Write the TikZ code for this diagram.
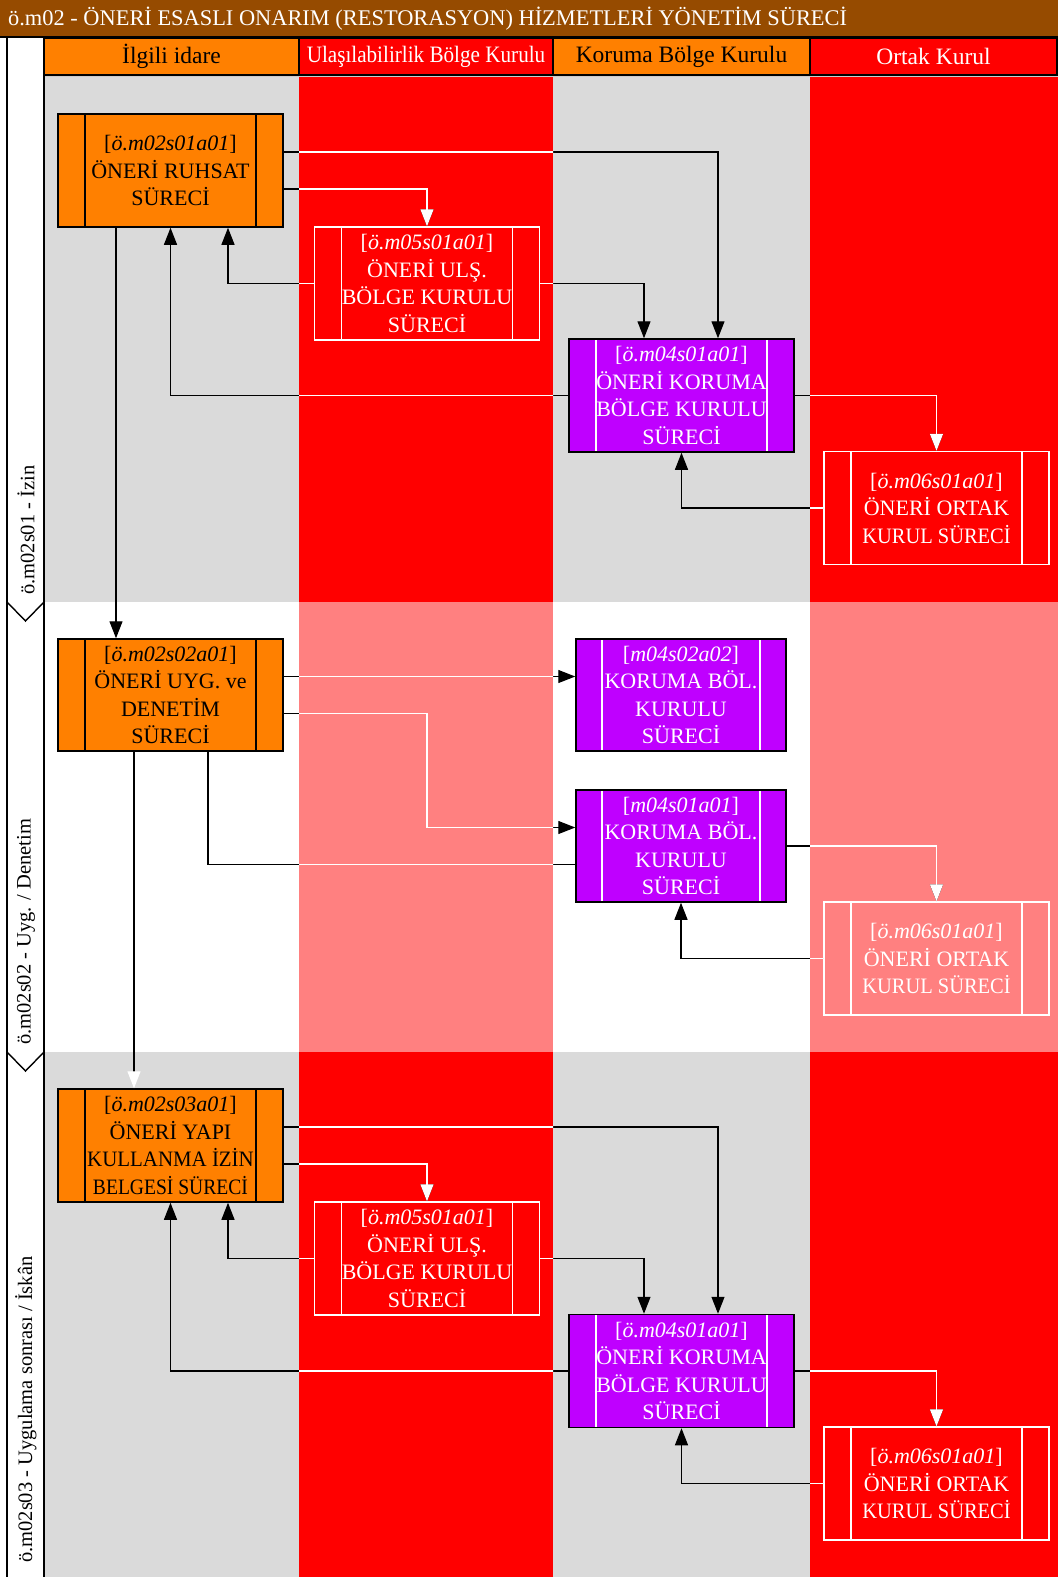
\documentclass[tikz,border=0pt]{standalone}
\usepackage{fontspec}
\setmainfont{Liberation Serif}
\usepackage{graphicx}
\usetikzlibrary{arrows.meta,calc}
\definecolor{gr}{RGB}{218,218,218}
\definecolor{rd}{RGB}{255,0,0}
\definecolor{pk}{RGB}{255,128,128}
\definecolor{og}{RGB}{255,128,0}
\definecolor{pu}{RGB}{191,0,255}
\definecolor{br}{RGB}{150,75,0}
\newcommand\bxfont{\fontsize{22}{27.5}\selectfont}
\newcommand\hdfont{\fontsize{23.5}{27}\selectfont}
\newcommand\phfont{\fontsize{20.5}{24}\selectfont}
\newcommand\sqz[2]{\scalebox{#1}[1]{#2}}
\newcommand\conns[1]{%
\begin{scope}[cn/.style={draw=#1,line width=1.2pt,-{Triangle[length=17pt,width=13pt,color=#1]}},cl/.style={draw=#1,line width=1.2pt}]
% phase 1
\draw[cn] ([yshift=18.5pt]A.east) -| ([xshift=36.5pt]C.north);
\draw[cn] ([yshift=-18.5pt]A.east) -| (B.north);
\draw[cn] (B.west) -| ([xshift=57.5pt]A.south);
\draw[cn] (B.east) -| ([xshift=-37.5pt]C.north);
\draw[cn] (C.west) -| (A.south);
\draw[cn] (C.east) -| (D.north);
\draw[cn] (D.west) -| (C.south);
\draw[cn] ([xshift=-54.5pt]A.south) -- ([xshift=-54.5pt]E.north);
% phase 2
\draw[cn] ([yshift=18.5pt]E.east) -- ([yshift=18.5pt]F.west);
\draw[cn] ([yshift=-18.5pt]E.east) -| (B.north |- E.south) |- ([yshift=18.5pt]G.west);
\draw[cl] ([xshift=37.5pt]E.south) |- ([yshift=-18.5pt]G.west);
\draw[cn] (G.east) -| (H.north);
\draw[cn] (H.west) -| (G.south);
\draw[cl,-{Triangle[length=17pt,width=13pt,color=white]}] ([xshift=-36.5pt]E.south) -- ([xshift=-36.5pt]I.north);
% phase 3
\draw[cn] ([yshift=18.5pt]I.east) -| ([xshift=36.5pt]K.north);
\draw[cn] ([yshift=-18.5pt]I.east) -| (J.north);
\draw[cn] (J.west) -| ([xshift=57.5pt]I.south);
\draw[cn] (J.east) -| ([xshift=-37.5pt]K.north);
\draw[cn] (K.west) -| (I.south);
\draw[cn] (K.east) -| (L.north);
\draw[cn] (L.west) -| (K.south);
\end{scope}}
\begin{document}
\begin{tikzpicture}[x=1pt,y=-1pt,
  proc/.style={rectangle, minimum width=225pt, minimum height=113pt, inner sep=0pt, line width=1.5pt, align=center, font=\bxfont,
    path picture={\draw[line width=1.5pt,#1] ([xshift=27pt]path picture bounding box.north west) -- ([xshift=27pt]path picture bounding box.south west) ([xshift=-27pt]path picture bounding box.north east) -- ([xshift=-27pt]path picture bounding box.south east);}},
  procn/.style={rectangle, minimum width=210pt, minimum height=112pt, inner sep=0pt, line width=1.5pt, align=center, font=\bxfont,
    path picture={\draw[line width=1.5pt,#1] ([xshift=26pt]path picture bounding box.north west) -- ([xshift=26pt]path picture bounding box.south west) ([xshift=-26pt]path picture bounding box.north east) -- ([xshift=-26pt]path picture bounding box.south east);}},
  obox/.style={proc=black, fill=og, draw=black, text=black},
  pbox/.style={proc=white, fill=pu, draw=black, text=white},
  pnbox/.style={procn=white, fill=pu, draw=black, text=white},
  rbox/.style={proc=white, draw=white, text=white},
  hdr/.style={rectangle, draw=black, line width=1.5pt, minimum height=37pt, inner sep=0pt, font=\hdfont},
  phase/.style={rotate=90, anchor=west, inner sep=0pt, font=\phfont}
]
\useasboundingbox (0,0) rectangle (1058,1577);
% title
\fill[br] (0,0) rectangle (1058,37);
\draw[black,line width=1.5pt] (0,37) -- (1058,37);
\node[anchor=west, inner sep=0pt, text=white, font=\fontsize{22.4}{26}\selectfont] (title) at (8,19) {ö.m02 - ÖNERİ ESASLI ONARIM (RESTORASYON) HİZMETLERİ YÖNETİM SÜRECİ};
% lane backgrounds
\fill[gr] (44,75) rectangle (299,602);
\fill[rd] (299,75) rectangle (553,602);
\fill[gr] (553,75) rectangle (810,602);
\fill[rd] (810,75) rectangle (1058,602);
\fill[white] (44,602) rectangle (299,1052);
\fill[pk] (299,602) rectangle (553,1052);
\fill[white] (553,602) rectangle (810,1052);
\fill[pk] (810,602) rectangle (1058,1052);
\fill[gr] (44,1052) rectangle (299,1577);
\fill[rd] (299,1052) rectangle (553,1577);
\fill[gr] (553,1052) rectangle (810,1577);
\fill[rd] (810,1052) rectangle (1058,1577);
\draw[white!80!black,line width=1.5pt] (44,76.5) -- (1058,76.5);
% headers
\node[hdr, fill=og, minimum width=255pt, text=black] (h1) at (171.5,56.5) {İlgili idare};
\node[hdr, fill=rd, minimum width=254pt, text=white] (h2) at (426,56.5) {\sqz{0.9}{Ulaşılabilirlik Bölge Kurulu}};
\node[hdr, fill=og, minimum width=257pt, text=black] (h3) at (681.5,56.5) {Koruma Bölge Kurulu};
\node[hdr, fill=rd, minimum width=247pt, text=white] (h4) at (933.5,56.5) {Ortak Kurul};
% phase column
\fill[white] (7,38) rectangle (44,1577);
\draw[black,line width=1.4pt] (7,38) -- (7,1577) (44,38) -- (44,1577);
\draw[black,line width=1.4pt] (7,602) -- (25.5,621) -- (44,602);
\draw[black,line width=1.4pt] (7,1052) -- (25.5,1071) -- (44,1052);
\node[phase] (ph1) at (26,595) {ö.m02s01 - İzin};
\node[phase] (ph2) at (26,1045) {ö.m02s02 - Uyg. / Denetim};
\node[phase] (ph3) at (26,1563) {ö.m02s03 - Uygulama sonrası / İskân};
% process boxes
\node[obox] (A) at (170.5,170.5) {[\textit{ö.m02s01a01}]\\ÖNERİ RUHSAT\\SÜRECİ};
\node[rbox] (B) at (427,283.5) {[\textit{ö.m05s01a01}]\\ÖNERİ ULŞ.\\BÖLGE KURULU\\SÜRECİ};
\node[pbox] (C) at (681.5,395.5) {[\textit{ö.m04s01a01}]\\ÖNERİ KORUMA\\BÖLGE KURULU\\SÜRECİ};
\node[rbox] (D) at (936.5,508) {[\textit{ö.m06s01a01}]\\ÖNERİ ORTAK\\\sqz{0.93}{KURUL SÜRECİ}};
\node[obox, minimum height=112pt] (E) at (170.5,695) {[\textit{ö.m02s02a01}]\\ÖNERİ UYG. ve\\DENETİM\\SÜRECİ};
\node[pnbox] (F) at (681,695) {[\textit{m04s02a02}]\\KORUMA BÖL.\\KURULU\\SÜRECİ};
\node[pnbox] (G) at (681,846) {[\textit{m04s01a01}]\\KORUMA BÖL.\\KURULU\\SÜRECİ};
\node[rbox] (H) at (936.5,958.5) {[\textit{ö.m06s01a01}]\\ÖNERİ ORTAK\\\sqz{0.93}{KURUL SÜRECİ}};
\node[obox] (I) at (170.5,1145.5) {[\textit{ö.m02s03a01}]\\ÖNERİ YAPI\\\sqz{0.95}{KULLANMA İZİN}\\\sqz{0.89}{BELGESİ SÜRECİ}};
\node[rbox] (J) at (427,1258.5) {[\textit{ö.m05s01a01}]\\ÖNERİ ULŞ.\\BÖLGE KURULU\\SÜRECİ};
\node[pbox] (K) at (681.5,1371) {[\textit{ö.m04s01a01}]\\ÖNERİ KORUMA\\BÖLGE KURULU\\SÜRECİ};
\node[rbox] (L) at (936.5,1483.5) {[\textit{ö.m06s01a01}]\\ÖNERİ ORTAK\\\sqz{0.93}{KURUL SÜRECİ}};
% connectors: black everywhere, white over the red/pink lanes
\conns{black}
\begin{scope}
\clip (299,75) rectangle (553,1577) (810,75) rectangle (1058,1577);
\conns{white}
\end{scope}
\end{tikzpicture}
\end{document}
